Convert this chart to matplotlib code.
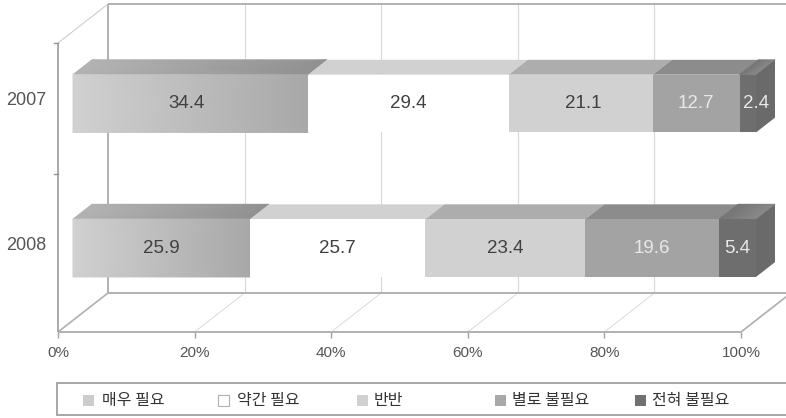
import matplotlib
matplotlib.use("Agg")
import matplotlib.pyplot as plt
from matplotlib.patches import Polygon, Rectangle
from matplotlib.transforms import offset_copy
import numpy as np

plt.rcParams['font.family'] = ['Liberation Sans', 'DejaVu Sans']
KOREAN = ['Noto Sans CJK KR', 'DejaVu Sans']

years = ['2007', '2008']
categories = ['매우 필요', '약간 필요', '반반', '별로 불필요', '전혀 불필요']
values_2007 = [34.4, 29.4, 21.1, 12.7, 2.4]
values_2008 = [25.9, 25.7, 23.4, 19.6, 5.4]
x_ticks = [0, 20, 40, 60, 80, 100]

W, H = 786, 418
DPI = 100
LEFT, RIGHT, TOP, BOTTOM = 58, 741, 43, 332

# oblique depth offset of the back wall, in data units
DEPTH_X = 50 / (RIGHT - LEFT) * 100
DEPTH_Y = 39 / (BOTTOM - TOP) * 2

BAR_H = 0.40
D_FRONT, D_BACK = 0.30, 0.68

# grey levels: (front left, front right, top left, top right)
front_top = [
    (0.82, 0.66, 0.70, 0.57),
    (1.00, 1.00, 0.82, 0.82),
    (0.82, 0.82, 0.68, 0.68),
    (0.64, 0.64, 0.55, 0.55),
    (0.43, 0.43, 0.46, 0.54),
]
label_colors = ['#404040', '#404040', '#404040', '#e8e8e8', '#e8e8e8']
legend_colors = ['#cccccc', '#ffffff', '#d0d0d0', '#a8a8a8', '#707070']
LINE = '#b0b0b0'


def proj(x, y, d):
    return x + d * DEPTH_X, y + d * DEPTH_Y


fig = plt.figure(figsize=(W / DPI, H / DPI), dpi=DPI, facecolor='white')
ax = fig.add_axes([LEFT / W, 1 - BOTTOM / H, (RIGHT - LEFT) / W, (BOTTOM - TOP) / H])
ax.set_xlim(0, 100)
ax.set_ylim(0, 2)
ax.patch.set_visible(False)
for s in ax.spines.values():
    s.set_visible(False)


def seg(p, q, color=LINE, lw=1.0, z=1):
    ax.plot([p[0], q[0]], [p[1], q[1]], color=color, lw=lw, clip_on=False,
            zorder=z, solid_capstyle='butt')


def face(x0, x1, y0, y1, d0, d1, g0, g1, z):
    """Shaded quad running from x0 to x1, with a left-to-right grey ramp."""
    pts = [proj(x0, y0, d0), proj(x1, y0, d0), proj(x0, y1, d1), proj(x1, y1, d1)]
    X = np.array([[pts[0][0], pts[1][0]], [pts[2][0], pts[3][0]]])
    Y = np.array([[pts[0][1], pts[1][1]], [pts[2][1], pts[3][1]]])
    C = np.array([[g0, g1], [g0, g1]])
    if g0 == g1:
        ax.add_patch(Polygon([pts[0], pts[1], pts[3], pts[2]], closed=True,
                             facecolor=str(g0), edgecolor='none', zorder=z,
                             clip_on=False))
    else:
        ax.pcolormesh(X, Y, C, cmap='gray', vmin=0, vmax=1, shading='gouraud',
                      zorder=z, clip_on=False)


# back wall and floor
for t in x_ticks[1:]:
    seg(proj(t, 2, 1), proj(t, 0, 1), '#dadada', 0.9)
    seg(proj(t, 0, 0), proj(t, 0, 1), '#d4d4d4', 0.6)
seg(proj(0, 2, 1), proj(0, 0, 1), LINE, 1.4)
seg(proj(0, 2, 1), proj(100, 2, 1), LINE, 1.4)
seg(proj(0, 0, 1), proj(100, 0, 1), LINE, 1.4)
seg(proj(0, 2, 0), proj(0, 2, 1), '#c8c8c8', 0.7)
seg(proj(0, 0, 0), proj(0, 0, 1), LINE, 1.2)
seg(proj(100, 0, 0), proj(100, 0, 1), LINE, 1.2)

# front axes
seg((0, 0), (100, 0), LINE, 1.4, 2)
seg((0, 0), (0, 2), '#929292', 1.1, 2)
for yt in (2, 2 * (BOTTOM - 174) / (BOTTOM - TOP)):
    ax.plot([0, -0.6], [yt, yt], color='#929292', lw=1.0, clip_on=False)

ax.set_xticks(x_ticks)
ax.set_xticklabels([f'{t}%' for t in x_ticks], fontsize=11, color='#555555')
ax.tick_params(axis='x', length=4, width=1.0, color='#a0a0a0', pad=6)
ax.set_yticks([])

# hand-placed label shifts, in pixels, keyed by (row, segment)
label_shift = {(0, 0): -4, (0, 2): 2, (0, 4): 8}

# stacked bars, back row first
for row, (year, vals) in enumerate(zip(years, [values_2007, values_2008])):
    yc = 1.5 - row
    y0, y1 = yc - BAR_H / 2, yc + BAR_H / 2
    edges = np.concatenate([[0], np.cumsum(vals)])
    for i in range(len(vals)):
        a, b = edges[i], edges[i + 1]
        fl, fr, tl, tr = front_top[i]
        face(a, b, y1, y1, D_FRONT, D_BACK, tl, tr, 3)
        face(a, b, y0, y1, D_FRONT, D_FRONT, fl, fr, 4)
        px, py = proj((a + b) / 2, yc, D_FRONT)
        ax.text(px, py, f'{vals[i]:.1f}', ha='center', va='center', fontsize=13.5,
                color=label_colors[i], zorder=6,
                transform=offset_copy(ax.transData, fig=fig,
                                      x=label_shift.get((row, i), 0), y=0, units='dots'))
    end = edges[-1]
    p = [proj(end, y0, D_FRONT), proj(end, y1, D_FRONT), proj(end, y1, D_BACK), proj(end, y0, D_BACK)]
    ax.add_patch(Polygon(p, closed=True, facecolor='#6a6a6a', edgecolor='none',
                         zorder=5, clip_on=False))
    lx, ly = proj(0, yc, D_FRONT)
    ax.annotate(year, xy=(0, ly), xytext=(-12, 3), textcoords='offset pixels',
                ha='right', va='center', fontsize=13, color='#555555',
                annotation_clip=False)

# legend strip drawn in pixel coordinates
lg = fig.add_axes([0, 0, 1, 1])
lg.set_xlim(0, W)
lg.set_ylim(H, 0)
lg.axis('off')
lg.patch.set_visible(False)
lg.add_patch(Rectangle((57, 383), W, 32, facecolor='white', edgecolor='#a0a0a0', lw=1.3))
marker_x = [83, 218, 357, 495, 635]
text_x = [102, 237, 374, 512, 652]
for c, mx, tx, name in zip(legend_colors, marker_x, text_x, categories):
    lg.add_patch(Rectangle((mx, 395), 11, 11, facecolor=c,
                           edgecolor='#b0b0b0' if c == '#ffffff' else 'none', lw=0.8))
    lg.text(tx, 400, name, ha='left', va='center', fontsize=11.5, color='#333333',
            family=KOREAN)

fig.savefig('out.png', dpi=DPI)
